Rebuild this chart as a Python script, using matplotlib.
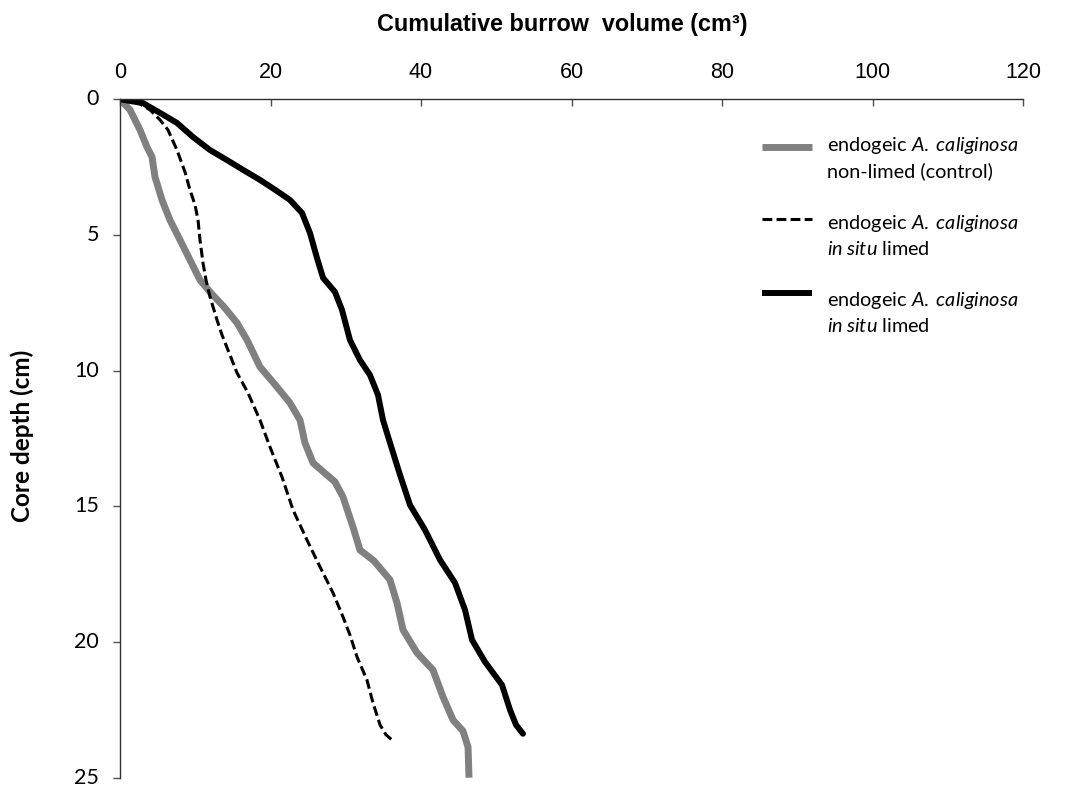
import matplotlib
matplotlib.use('Agg')
import matplotlib.pyplot as plt
from matplotlib.lines import Line2D

plt.rcParams['mathtext.fontset'] = 'custom'
plt.rcParams['mathtext.rm'] = 'Lato'
plt.rcParams['mathtext.it'] = 'Lato:italic'
plt.rcParams['mathtext.bf'] = 'Lato:bold'

# cumulative burrow volume (cm3) vs core depth (cm)
ctrl_vol = [0, 1.33, 2.66, 3.59, 4.25, 4.65, 5.58, 6.64, 7.97, 9.30, 10.63, 12.09, 13.82,
            15.55, 16.88, 18.60, 20.86, 22.59, 23.92, 24.58, 25.65, 28.57, 29.63, 30.96,
            31.89, 33.75, 35.88, 36.81, 37.61, 39.47, 41.59, 42.92, 44.25, 45.58, 46.25, 46.38]
ctrl_depth = [0, 0.39, 1.13, 1.76, 2.12, 2.86, 3.71, 4.45, 5.18, 5.92, 6.66, 7.14, 7.65,
              8.24, 8.87, 9.86, 10.60, 11.19, 11.82, 12.66, 13.40, 14.10, 14.65, 15.76,
              16.61, 17.01, 17.71, 18.56, 19.55, 20.40, 21.03, 22.02, 22.87, 23.28, 23.87, 25.0]

limed_vol = [0, 1.99, 3.99, 5.32, 6.38, 7.57, 8.64, 9.30, 9.97, 10.37, 10.63, 11.03, 11.43,
             11.96, 12.89, 13.55, 14.35, 15.55, 17.01, 18.60, 19.93, 21.53, 22.99, 24.85,
             26.58, 28.31, 29.63, 30.56, 31.50, 32.82, 33.62, 34.55, 35.35, 36.28]
limed_depth = [0, 0.06, 0.39, 0.76, 1.13, 1.87, 2.68, 3.34, 3.89, 4.45, 5.18, 6.03, 6.66,
               7.28, 8.13, 8.68, 9.24, 10.08, 10.82, 11.82, 12.81, 13.92, 15.13, 16.24,
               17.23, 18.19, 19.07, 19.74, 20.55, 21.40, 22.24, 23.05, 23.42, 23.64]

black_vol = [0, 3.06, 5.32, 7.57, 9.70, 11.96, 14.22, 16.35, 18.60, 20.86, 22.59, 24.19,
             25.25, 26.18, 26.98, 28.57, 29.50, 30.56, 31.89, 33.22, 34.29, 34.95, 35.88,
             37.21, 38.54, 40.53, 42.52, 44.52, 45.85, 46.78, 48.50, 50.76, 51.83, 52.62, 53.55]
black_depth = [0, 0.14, 0.50, 0.87, 1.39, 1.87, 2.24, 2.60, 2.97, 3.38, 3.71, 4.19, 4.93,
               5.85, 6.58, 7.10, 7.76, 8.87, 9.61, 10.16, 10.90, 11.82, 12.66, 13.84, 14.95,
               15.87, 16.97, 17.82, 18.82, 19.92, 20.73, 21.58, 22.50, 23.05, 23.38]

x_ticks = [0, 20, 40, 60, 80, 100, 120]
y_ticks = [0, 5, 10, 15, 20, 25]
legend_lines = [(r'endogeic $\mathit{A.\;caliginosa}$', 'non-limed (control)'),
                (r'endogeic $\mathit{A.\;caliginosa}$', r'$\mathit{in\;situ}$ limed'),
                (r'endogeic $\mathit{A.\;caliginosa}$', r'$\mathit{in\;situ}$ limed')]

W, H = 1066, 787
fig = plt.figure(figsize=(W / 100, H / 100), dpi=100)
ax = fig.add_axes([120 / W, 1 - 777.7 / H, 903 / W, 678.4 / H])

grey = '#808080'
ax.plot(ctrl_vol, ctrl_depth, color=grey, lw=5.0, solid_capstyle='butt',
        solid_joinstyle='round')
ax.plot(limed_vol, limed_depth, color='black', lw=2.2, dashes=(3.2, 1.4))
ax.plot(black_vol, black_depth, color='black', lw=4.3, solid_capstyle='round',
        solid_joinstyle='round')

ax.set_xlim(0, 120)
ax.set_ylim(25, 0)
ax.xaxis.tick_top()
ax.set_xticks(x_ticks)
ax.set_yticks(y_ticks)
for s in ['right', 'bottom']:
    ax.spines[s].set_visible(False)
for s in ['top', 'left']:
    ax.spines[s].set_color('#303030')
    ax.spines[s].set_linewidth(1.0)
ax.tick_params(axis='x', direction='in', length=5, width=1, color='#505050', pad=12,
               labelsize=15.5)
ax.tick_params(axis='y', direction='out', length=5, width=1, color='#505050', pad=10,
               labelsize=15.5)
for t in ax.get_xticklabels():
    t.set_fontfamily('Liberation Sans')
for t in ax.get_yticklabels():
    t.set_fontfamily('Lato')
    t.set_verticalalignment('center')

fig.text(562 / W, 1 - 25 / H, 'Cumulative burrow  volume (cm³)', ha='center', va='center',
         fontsize=16.8, fontweight='bold', family='Liberation Sans')
fig.text(22 / W, 1 - 436 / H, 'Core depth (cm)', ha='center', va='center', rotation=90,
         fontsize=17.5, fontweight='bold', family='Lato')

# hand-made legend
styles = [dict(color=grey, lw=5.0, solid_capstyle='butt'),
          dict(color='black', lw=2.2, dashes=(3.2, 1.4)),
          dict(color='black', lw=4.3, solid_capstyle='butt')]
line_y = [147, 219, 293]
text_y = [145, 223, 300]
for (l1, l2), st, ly, ty in zip(legend_lines, styles, line_y, text_y):
    fig.add_artist(Line2D([762 / W, 812 / W], [1 - ly / H, 1 - ly / H], **st))
    fig.text(827 / W, 1 - ty / H, l1, ha='left', va='center', fontsize=14.3, family='Lato')
    fig.text(827 / W, 1 - (ty + 26) / H, l2, ha='left', va='center', fontsize=14.3,
             family='Lato')

fig.savefig('out.png', dpi=100)
